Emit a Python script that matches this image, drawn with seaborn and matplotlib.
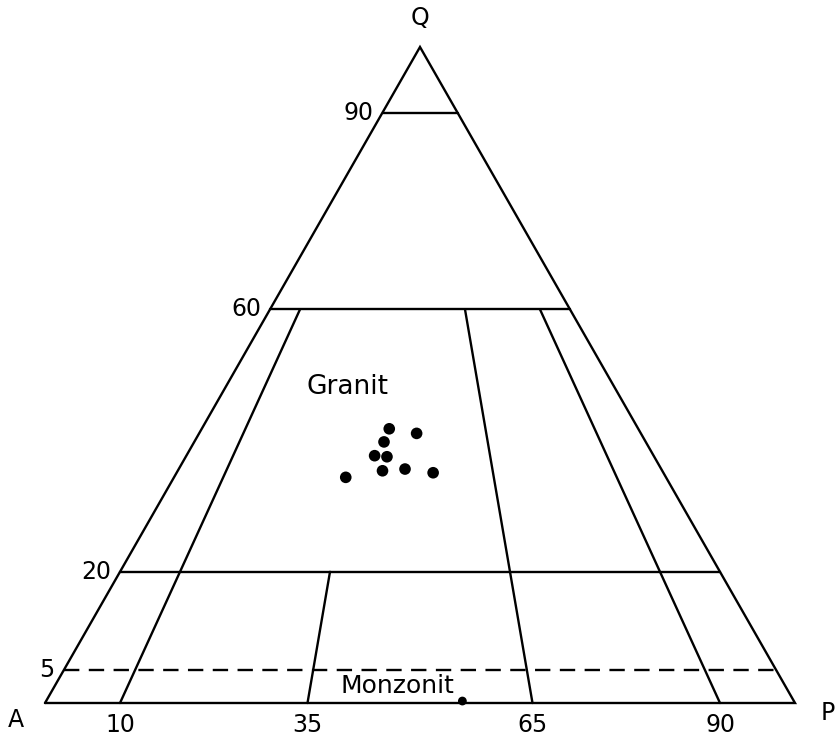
import numpy as np
import pandas as pd
import matplotlib
matplotlib.use("Agg")
import matplotlib.pyplot as plt
import seaborn as sns

# QAPF (upper triangle) field boundaries
q_levels = [90, 60, 20]          # solid horizontal boundaries, % Q
q_dashed = 5                      # dashed boundary, % Q
ratios = [10, 35, 65, 90]         # 100*P/(A+P) boundaries
ratio_tops = [60, 20, 60, 60]     # each ratio line runs from Q=0 up to this Q

# Sample compositions (Q, A, P in %)
granit_q = [41.8, 41.1, 39.8, 37.7, 37.5, 35.4, 35.7, 35.1, 34.4]
granit_a = [33.2, 29.9, 34.9, 37.2, 35.6, 37.3, 34.2, 30.7, 42.7]
granit_p = [25.0, 29.0, 25.3, 25.1, 26.8, 27.3, 30.2, 34.2, 22.9]
monz_q = [0.3]
monz_a = [44.2]
monz_p = [55.5]


def to_xy(q, a, p):
    q = np.asarray(q, float); a = np.asarray(a, float); p = np.asarray(p, float)
    s = q + a + p
    q, p = q / s, p / s
    return p + q / 2.0, q


def edge_points(qpct):
    """Left (A-Q) and right (P-Q) side points at a given Q level."""
    q = qpct / 100.0
    return (q / 2.0, q), (1 - q / 2.0, q)


def ratio_point(r, qpct):
    q = qpct / 100.0
    p = (1 - q) * r / 100.0
    return p + q / 2.0, q


sns.set_theme(style="white")
plt.rcParams["font.family"] = ["DejaVu Sans"]
plt.rcParams["text.color"] = "black"

fig = plt.figure(figsize=(8.35, 7.4), dpi=100)
ax = fig.add_axes([0, 0, 1, 1])
ax.set_xlim(-45 / 750, 790 / 750)
ax.set_ylim(-37 / 656, 703 / 656)
ax.axis("off")

lw = 1.7
# outer triangle
ax.plot([0, 1, 0.5, 0], [0, 0, 1, 0], color="black", lw=lw, solid_joinstyle="miter")

for ql in q_levels:
    (x0, y0), (x1, y1) = edge_points(ql)
    ax.plot([x0, x1], [y0, y1], color="black", lw=lw)

(x0, y0), (x1, y1) = edge_points(q_dashed)
ax.plot([x0, x1], [y0, y1], color="black", lw=lw, dashes=(6.5, 4))

for r, top in zip(ratios, ratio_tops):
    xb, yb = ratio_point(r, 0)
    xt, yt = ratio_point(r, top)
    ax.plot([xb, xt], [yb, yt], color="black", lw=lw)

# samples
gx, gy = to_xy(granit_q, granit_a, granit_p)
mx, my = to_xy(monz_q, monz_a, monz_p)
pts = pd.DataFrame({"x": np.r_[gx, mx], "y": np.r_[gy, my],
                    "field": ["Granit"] * len(gx) + ["Monzonit"] * len(mx)})
sns.scatterplot(data=pts, x="x", y="y", size="field", sizes={"Granit": 70, "Monzonit": 40},
                color="black", edgecolor="none", legend=False, ax=ax, zorder=5)

# apex labels
ax.text(0.5, 1.0 + 29 / 656, "Q", ha="center", va="center", fontsize=17)
ax.text(-29 / 750, -17 / 656, "A", ha="center", va="center", fontsize=17)
ax.text(1 + 33 / 750, -10 / 656, "P", ha="center", va="center", fontsize=17)

num_size = 17
# Q scale along the left side
for ql in q_levels + [q_dashed]:
    (x0, y0), _ = edge_points(ql)
    ax.text(x0 - 9 / 750, y0, str(ql), ha="right", va="center", fontsize=num_size)

# ratio scale along the base
for r in ratios:
    xb, _ = ratio_point(r, 0)
    ax.text(xb, -22 / 656, str(r), ha="center", va="center", fontsize=num_size)

# field names
ax.text((347 - 45) / 750, (703 - 387) / 656, "Granit", ha="center", va="center", fontsize=19)
ax.text((397 - 45) / 750, (703 - 686) / 656, "Monzonit", ha="center", va="center", fontsize=18)

fig.savefig("out.png", dpi=100, facecolor="white")
